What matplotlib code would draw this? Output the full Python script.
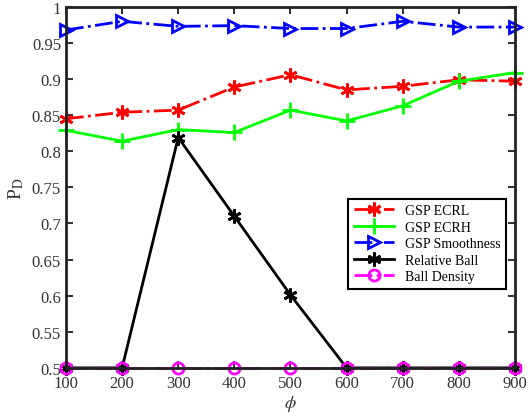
import numpy as np
import matplotlib
matplotlib.use('Agg')
import matplotlib.pyplot as plt

plt.rcParams['font.family'] = ['Liberation Serif', 'DejaVu Serif']
plt.rcParams['mathtext.fontset'] = 'stix'

phi = [100, 200, 300, 400, 500, 600, 700, 800, 900]
ecrl = [0.845, 0.854, 0.857, 0.889, 0.906, 0.885, 0.890, 0.899, 0.897]
ecrh = [0.829, 0.814, 0.830, 0.826, 0.857, 0.842, 0.863, 0.897, 0.909]
smooth = [0.968, 0.980, 0.973, 0.974, 0.970, 0.970, 0.980, 0.972, 0.972]
rel_ball = [0.5, 0.5, 0.819, 0.710, 0.601, 0.5, 0.5, 0.5, 0.5]
ball_density = [0.5, 0.5, 0.5, 0.5, 0.5, 0.5, 0.5, 0.5, 0.5]

fig = plt.figure(figsize=(5.32, 4.14), dpi=100)
ax = fig.add_axes([0.124, 0.109, 0.844, 0.872])

ax.plot(phi, ecrl, color='red', ls='-.', lw=2, marker=(6, 2, 0), ms=10, mew=2, label='GSP ECRL', clip_on=False)
ax.plot(phi, ecrh, color='#00ff00', ls='-', lw=2, marker='+', ms=12, mew=2, label='GSP ECRH', clip_on=False)
ax.plot(phi, smooth, color='blue', ls='-.', lw=2, marker='>', ms=9, mfc='none', mew=2, label='GSP Smoothness', clip_on=False)
ax.plot(phi, rel_ball, color='black', ls='-', lw=2, marker=(6, 2, 0), ms=10, mew=2, label='Relative Ball', clip_on=False)
ax.plot(phi, ball_density, color='magenta', ls='-.', lw=2, marker='o', ms=8, mfc='none', mew=2, label='Ball Density', clip_on=False)

ax.set_xlim(100, 900)
ax.set_ylim(0.5, 1)
ax.set_xticks(phi)
ax.set_yticks(np.arange(0.5, 1.001, 0.05))
ax.set_yticklabels(['0.5', '0.55', '0.6', '0.65', '0.7', '0.75', '0.8', '0.85', '0.9', '0.95', '1'])
ax.tick_params(direction='in', top=True, right=True, width=1.5, length=5, labelsize=12, colors='#333333')
ax.tick_params(axis='x', pad=5)
for s in ax.spines.values():
    s.set_linewidth(2)
    s.set_color('#222222')
ax.set_xlabel(r'$\phi$', fontsize=13, color='#333333')
ax.xaxis.set_label_coords(0.5, -0.07)
ax.set_ylabel(r'P$_\mathrm{D}$', fontsize=14, color='#333333')

leg = ax.legend(loc='lower right', bbox_to_anchor=(0.996, 0.2), fontsize=10, fancybox=False,
                edgecolor='black', framealpha=1, handlelength=2.9, borderpad=0.4, labelspacing=0.25)
leg.get_frame().set_linewidth(1.5)

fig.savefig('out.png', dpi=100)
